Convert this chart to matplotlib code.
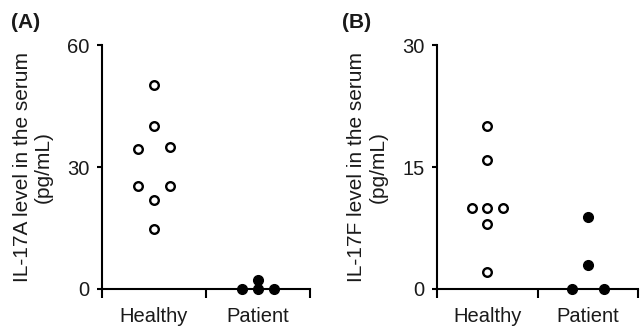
import matplotlib
matplotlib.use("Agg")
import matplotlib.pyplot as plt

plt.rcParams["font.family"] = ["Liberation Sans", "DejaVu Sans"]

groups = ["Healthy", "Patient"]

# IL-17A (pg/mL)
il17a_healthy = [50.2, 40.2, 34.4, 35.0, 25.3, 25.3, 21.9, 14.7]
il17a_patient = [0.0, 0.0, 0.0, 2.2]
# IL-17F (pg/mL)
il17f_healthy = [20.1, 15.9, 9.9, 9.9, 9.9, 8.0, 2.1]
il17f_patient = [0.0, 0.0, 8.8, 3.0]

# horizontal slot of each point within its column (-1 left, 0 centre, 1 right)
slots_a_healthy = [0, 0, -1, 1, -1, 1, 0, 0]
slots_a_patient = [-1, 0, 1, 0]
slots_f_healthy = [0, 0, -1, 0, 1, 0, 0]
slots_f_patient = [-1, 1, 0, 0]

SPREAD = 0.155
W, H = 641, 329
INK = "#1a1a1a"


def draw_panel(ax, healthy, patient, s_h, s_p, ymax):
    ax.plot([1 + SPREAD * s for s in s_h], healthy, "o", ms=6.2, mfc="white",
            mec="black", mew=1.7, clip_on=False, zorder=3)
    ax.plot([2 + SPREAD * s for s in s_p], patient, "o", ms=7, mfc="black",
            mec="black", mew=1, clip_on=False, zorder=3)
    ax.set_xlim(0.5, 2.5)
    ax.set_ylim(0, ymax)
    ax.set_yticks([0, ymax / 2, ymax])
    ax.set_yticklabels([f"{int(v)}" for v in (0, ymax / 2, ymax)])
    ax.set_xticks([1, 2])
    ax.set_xticklabels(groups)
    ax.set_xticks([0.5, 1.5, 2.5], minor=True)
    ax.tick_params(axis="x", which="major", length=0, pad=13, labelsize=14.5,
                   labelcolor=INK)
    ax.tick_params(axis="x", which="minor", length=6.5, width=1.5, direction="out")
    ax.tick_params(axis="y", length=3.8, width=1.5, pad=5, labelsize=14.5,
                   labelcolor=INK)
    for side in ("top", "right"):
        ax.spines[side].set_visible(False)
    for side in ("left", "bottom"):
        ax.spines[side].set_linewidth(1.5)


fig = plt.figure(figsize=(W / 100, H / 100), dpi=100)
ax_a = fig.add_axes([0.159, 0.1216, 0.3246, 0.7415])
ax_b = fig.add_axes([0.6817, 0.1216, 0.314, 0.7415])

draw_panel(ax_a, il17a_healthy, il17a_patient, slots_a_healthy, slots_a_patient, 60)
draw_panel(ax_b, il17f_healthy, il17f_patient, slots_f_healthy, slots_f_patient, 30)

# y labels and panel tags, placed in figure pixels
fig.text(33 / W, 1 - 167 / H, "IL-17A level in the serum\n(pg/mL)", rotation=90,
         ha="center", va="center", multialignment="center", fontsize=15,
         linespacing=1.15, color=INK)
fig.text(367.5 / W, 1 - 167 / H, "IL-17F level in the serum\n(pg/mL)", rotation=90,
         ha="center", va="center", multialignment="center", fontsize=15,
         linespacing=1.15, color=INK)
fig.text(11 / W, 1 - 23 / H, "(A)", fontsize=15, fontweight="bold", ha="left",
         va="center", color=INK)
fig.text(342 / W, 1 - 22.5 / H, "(B)", fontsize=15, fontweight="bold", ha="left",
         va="center", color=INK)

fig.savefig("out.png", dpi=100, facecolor="white")
